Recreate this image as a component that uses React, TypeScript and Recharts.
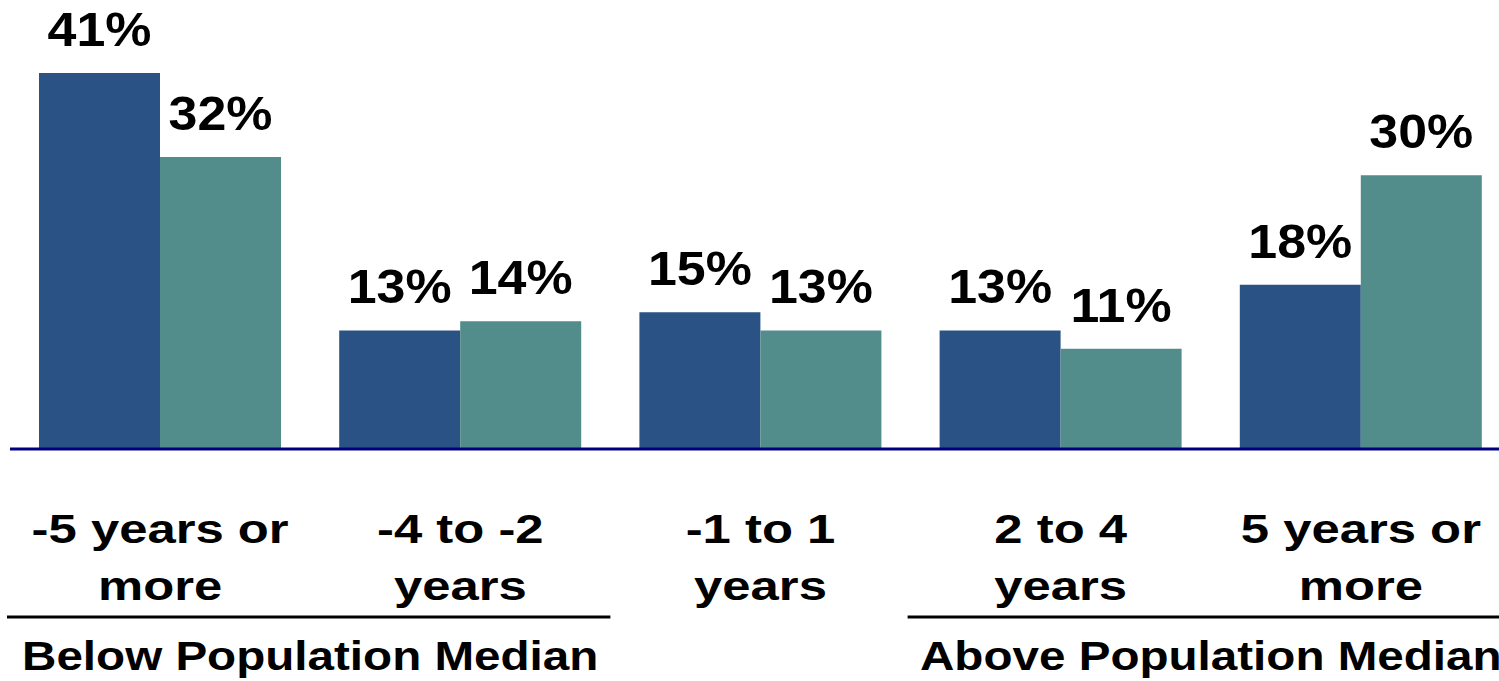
import React from "react";
import { BarChart, Bar, XAxis, YAxis, LabelList } from "recharts";

const categories = [
  "-5 years or|more",
  "-4 to -2|years",
  "-1 to 1|years",
  "2 to 4|years",
  "5 years or|more",
];
const seriesA = [41.2, 13, 15, 13, 18];
const seriesB = [32, 14, 13, 11, 30];
const groupLabels = ["Below Population Median", "", "", "Above Population Median", ""];

const data = categories.map((c, i) => ({
  name: c,
  a: seriesA[i],
  b: seriesB[i],
  group: groupLabels[i],
}));

const FONT = "'Liberation Sans', Arial, Helvetica, sans-serif";

const Tick = (props: any) => {
  const { x, y, payload, index, width, visibleTicksCount } = props;
  const lines = String(payload.value).split("|");
  const count = visibleTicksCount || categories.length;
  const band = width / count;
  const g = groupLabels[index];
  return (
    <g>
      {lines.map((ln: string, i: number) => (
        <text
          key={i}
          transform={`translate(${x},${y + 94 + i * 57}) scale(1.27,1)`}
          x={0}
          y={0}
          textAnchor="middle"
          fontSize={40}
          fontWeight="bold"
          fontFamily={FONT}
          fill="#000"
        >
          {ln}
        </text>
      ))}
      {g ? (
        <g>
          <line
            x1={x - band / 2 - 3}
            x2={x + band * 1.5}
            y1={y + 168}
            y2={y + 168}
            stroke="#000"
            strokeWidth={3}
          />
          <text
            transform={`translate(${x + band / 2},${y + 221}) scale(1.19,1)`}
            x={0}
            y={0}
            textAnchor="middle"
            fontSize={40}
            fontWeight="bold"
            fontFamily={FONT}
            fill="#000"
          >
            {g}
          </text>
        </g>
      ) : null}
    </g>
  );
};

const ValueLabel = (props: any) => {
  const { x, y, width, value } = props;
  return (
    <text
      transform={`translate(${x + width / 2},${y - 27}) scale(1.06,1)`}
      x={0}
      y={0}
      textAnchor="middle"
      fontSize={49}
      fontWeight="bold"
      fontFamily={FONT}
      fill="#000"
    >
      {Math.round(value)}%
    </text>
  );
};

export default function App() {
  return (
    <div
      style={{
        position: "absolute",
        left: 0,
        top: 0,
        width: 1499,
        height: 681,
        overflow: "hidden",
        background: "#fff",
      }}
    >
      <BarChart
        width={1511}
        height={681}
        data={data}
        margin={{ top: 11, right: 0, bottom: 0, left: 10 }}
        barCategoryGap="9.66%"
        barGap={0}
      >
        <XAxis
          dataKey="name"
          height={232}
          axisLine={{ stroke: "#000080", strokeWidth: 3 }}
          tickLine={false}
          tickSize={0}
          tickMargin={0}
          interval={0}
          tick={<Tick />}
        />
        <YAxis hide domain={[0, 48]} />
        <Bar dataKey="a" fill="#2A5285" isAnimationActive={false}>
          <LabelList dataKey="a" content={<ValueLabel />} />
        </Bar>
        <Bar dataKey="b" fill="#528D8B" isAnimationActive={false}>
          <LabelList dataKey="b" content={<ValueLabel />} />
        </Bar>
      </BarChart>
    </div>
  );
}
